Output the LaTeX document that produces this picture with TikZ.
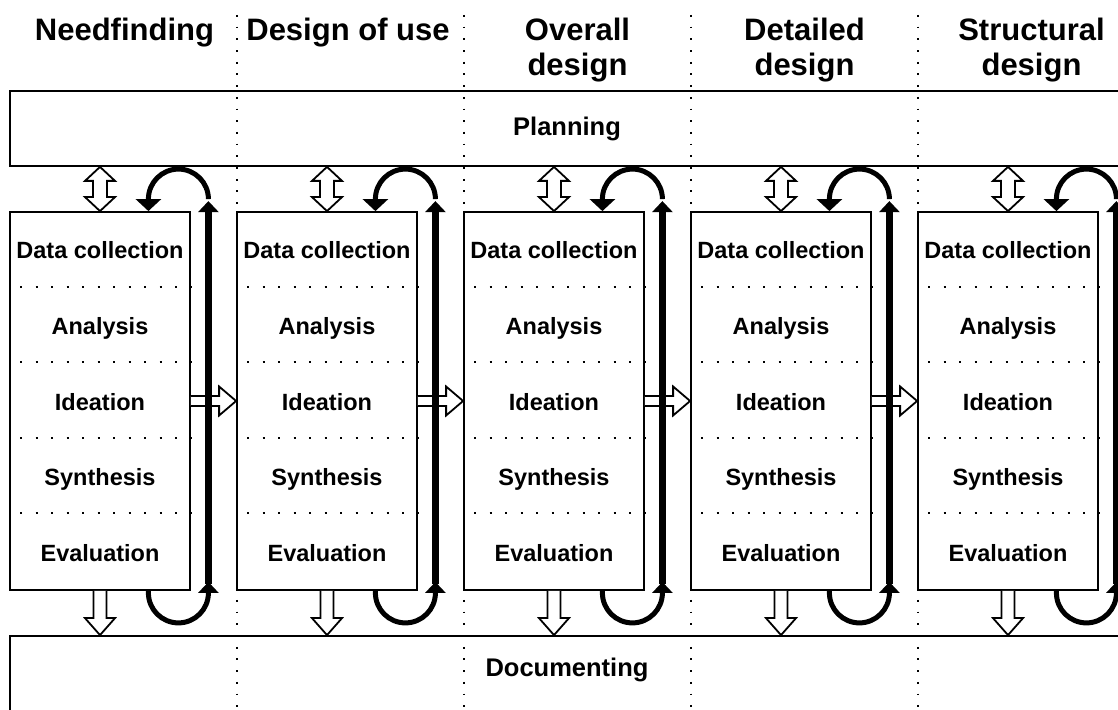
\documentclass[tikz,border=0pt]{standalone}
\usepackage{fontspec}
\setmainfont{Liberation Sans}
\usetikzlibrary{arrows.meta,calc}

\tikzset{
  colbox/.style={draw, line width=1.8pt, fill=white, minimum width=180pt, minimum height=378pt, inner sep=0pt},
  bar/.style={draw, line width=1.8pt, minimum width=1114pt, inner sep=0pt, font=\fontsize{25.5}{30}\selectfont\bfseries},
  header/.style={align=center, inner sep=0pt, font=\fontsize{31}{35}\selectfont\bfseries},
  rowtext/.style={inner sep=0pt, text height=17pt, text depth=5pt, font=\fontsize{23.5}{28}\selectfont\bfseries},
  sepline/.style={line width=2pt, dash pattern=on 2pt off 13.5pt},
  colline/.style={line width=1.8pt, dash pattern=on 1.8pt off 9.9pt},
  hollow/.style={draw, fill=white, line width=1.8pt, line join=miter},
  loopline/.style={line width=5pt},
  upline/.style={line width=6.5pt},
}

\begin{document}
\begin{tikzpicture}[x=1pt, y=1pt]
\useasboundingbox (0,0) rectangle (1118,709);

% phase separators
\foreach \i in {1,...,4}
  \draw[colline] (10+227*\i, 694) -- (10+227*\i, -5);

\node[bar, minimum height=75pt] (plan) at (567, 580.5) {Planning};
\node[bar, minimum height=83pt, text depth=20pt] (doc) at (567, 31.5) {Documenting};

% phases
\node[header] (h-nf) at (124.5, 676) {Needfinding};
\node[header] (h-du) at (348, 676) {Design of use};
\node[header] (h-od) at (577.5, 658.5) {Overall\\design};
\node[header] (h-dd) at (804.5, 658.5) {Detailed\\design};
\node[header] (h-sd) at (1031.5, 658.5) {Structural\\design};

\foreach \i/\name in {0/nf, 1/du, 2/od, 3/dd, 4/sd} {
  \node[colbox] (\name) at (100+227*\i, 308) {};
  \foreach \k/\txt in {1/Data collection, 2/Analysis, 3/Ideation, 4/Synthesis, 5/Evaluation}
    \node[rowtext] (\name-\k) at ($(\name.north)+(0,33.8-75.6*\k)$) {\txt};
  \foreach \k in {1,...,4}
    \draw[sepline] ($(\name.north west)+(11,-75.6*\k)$) -- ($(\name.north east)+(0,-75.6*\k)$);
  % to and from planning
  \coordinate (\name-top) at (\name.north |- plan.south);
  \draw[hollow] let \p1=(\name.north), \p2=(\name-top) in
    (\x1,\y1) -- ++(-15,14) -- ++(8,0) -- (\x1-7pt,\y2-14pt) -- ++(-8,0) -- (\x2,\y2)
    -- ++(15,-14) -- ++(-8,0) -- (\x1+7pt,\y1+14pt) -- ++(8,0) -- cycle;
  % to documenting
  \coordinate (\name-bot) at (\name.south |- doc.north);
  \draw[hollow] let \p1=(\name.south), \p2=(\name-bot) in
    (\x1-6.5pt,\y1) -- (\x1-6.5pt,\y2+17pt) -- ++(-8.5,0) -- (\x2,\y2)
    -- ++(15,17) -- ++(-8.5,0) -- (\x1+6.5pt,\y1);
}

% hand over to next phase
\foreach \a/\b in {nf/du, du/od, od/dd, dd/sd}
  \draw[hollow] let \p1=(\a.east), \p2=(\b.west) in
    (\x1,\y1+5pt) -- (\x2-17pt,\y1+5pt) -- ++(0,9.5) -- (\x2,\y2)
    -- ++(-17,-14.5) -- ++(0,9.5) -- (\x1,\y1-5pt);

% iteration loops
\foreach \name in {nf, du, od, dd, sd} {
  \draw[upline, -{Triangle[width=20pt, length=11pt]}]
    ($(\name.south east)+(17.5,7)$) -- ($(\name.north east)+(17.5,10)$);
  \draw[loopline, -{Triangle[width=25pt, length=12pt]}]
    ($(\name.north east)+(17.5,12)$) arc[start angle=0, end angle=180, radius=30] -- ++(0,-12);
  \draw[loopline, -{Triangle[width=20pt, length=11pt]}]
    ($(\name.south east)+(-42.5,0)$) -- ++(0,-2) arc[start angle=180, end angle=360, radius=30] -- ++(0,11);
}

\end{tikzpicture}
\end{document}
